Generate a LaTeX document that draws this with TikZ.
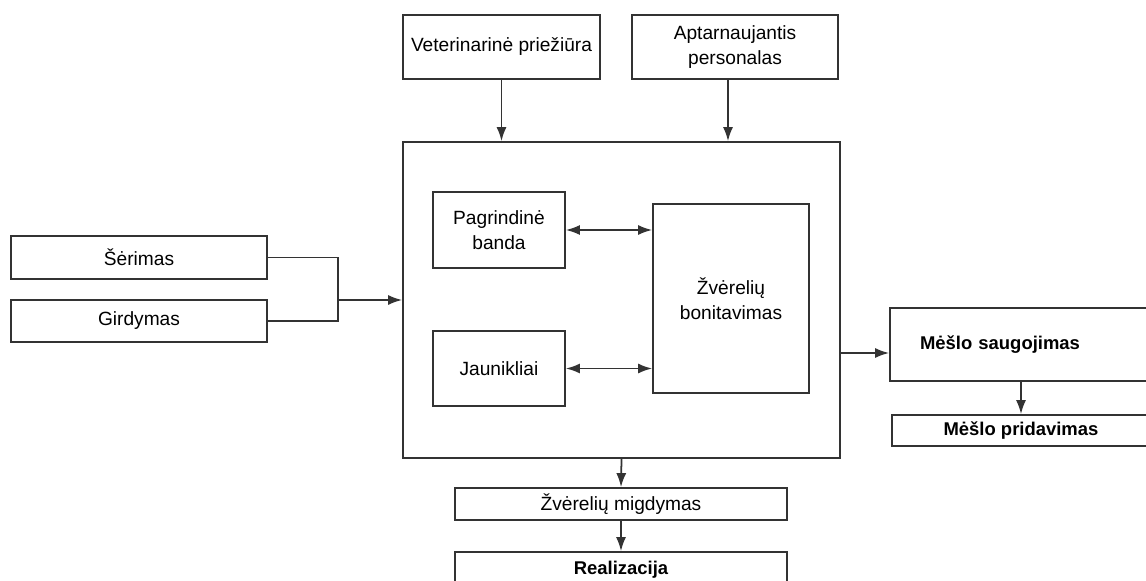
\documentclass[tikz,border=0pt]{standalone}
\usepackage{fontspec}
\setmainfont{Liberation Sans}
\usepackage{xcolor}
\usepackage{tikz}
\usetikzlibrary{arrows.meta, positioning, calc}

\begin{document}
\begin{tikzpicture}[
  x=0.02cm, y=-0.02cm,
  box/.style={rectangle, draw=black!80, line width=1pt, fill=white, align=center, inner sep=2pt, font=\fontsize{10.9}{14}\selectfont},
  boldbox/.style={box, font=\fontsize{10.5}{14}\selectfont\bfseries},
  >={Latex[length=2.8mm, width=2mm]},
  flow/.style={draw=black!80, line width=1pt}
]
  \clip (0,0) rectangle (1146,581);
  \fill[white] (0,0) rectangle (1146,581);

  % top inputs
  \node[box, minimum width=3.94cm, minimum height=1.28cm] (vet) at (501.5,47) {Veterinarinė priežiūra};
  \node[box, minimum width=4.12cm, minimum height=1.28cm] (staff) at (735,47) {Aptarnaujantis\\personalas};

  % farm block
  \node[box, minimum width=8.74cm, minimum height=6.32cm] (farm) at (621.5,300) {};
  \node[box, minimum width=2.64cm, minimum height=1.52cm] (herd) at (499,230) {Pagrindinė\\banda};
  \node[box, minimum width=2.64cm, minimum height=1.50cm] (young) at (499,368.5) {Jaunikliai};
  \node[box, minimum width=3.12cm, minimum height=3.78cm] (grading) at (731,298.5) {Žvėrelių\\bonitavimas};

  % feeding
  \node[box, minimum width=5.12cm, minimum height=0.86cm] (feed) at (139,257.5) {Šėrimas};
  \node[box, minimum width=5.12cm, minimum height=0.84cm] (water) at (139,321) {Girdymas};
  \coordinate (join) at (338,300);

  % manure
  \node[boldbox, minimum width=5.4cm, minimum height=1.46cm, text width=4.2cm, align=left] (store) at (1025,344.5) {Mėšlo saugojimas};
  \node[boldbox, minimum width=5.16cm, minimum height=0.62cm] (deliver) at (1021,430.5) {Mėšlo pridavimas};

  % output
  \node[box, minimum width=6.64cm, minimum height=0.64cm] (sleep) at (621,504) {Žvėrelių migdymas};
  \node[boldbox, minimum width=6.64cm, minimum height=0.72cm] (sale) at (621,570) {Realizacija};

  \draw[flow, ->] (vet.south) -- (vet.south |- farm.north);
  \draw[flow, ->] ([xshift=-0.14cm]staff.south) -- ([xshift=-0.14cm]staff.south |- farm.north);
  \draw[flow, <->] (herd.east) -- (herd.east -| grading.west);
  \draw[flow, <->] (young.east) -- (young.east -| grading.west);
  \draw[flow] (feed.east) -| (join) |- (water.east);
  \draw[flow, ->] (join) -- (farm.west);
  \draw[flow, ->] ([yshift=-0.17cm]store.west -| farm.east) -- ([yshift=-0.17cm]store.west);
  \draw[flow, ->] (deliver.north |- store.south) -- (deliver.north);
  \draw[flow, ->] (farm.south) -- (sleep.north);
  \draw[flow, ->] (sleep.south) -- (sale.north);
\end{tikzpicture}
\end{document}
